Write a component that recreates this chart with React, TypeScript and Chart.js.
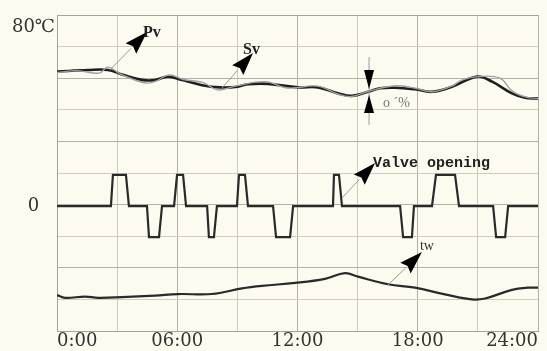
import React, { useEffect, useRef } from 'react';
import { Chart, registerables } from 'chart.js';

Chart.register(...registerables);

// ---- data (x in hours, y in chart units: 0..10, 10 = 80℃ line) ----
const xTickLabels: Record<number, string> = { 0: '0:00', 6: '06:00', 12: '12:00', 18: '18:00', 24: '24:00' };
const yTopLabel = '80℃';
const yZeroLabel = '0';
const yTopLabelPos = 9.62;
const yZeroLabelPos = 3.94;

const pvHours = [0, 1.55, 2.54, 3.24, 4.29, 4.89, 5.54, 6.24, 7.24, 8.13, 8.88, 9.53, 10.53, 12.03, 13.02, 14.02, 14.72, 15.52, 16.12, 16.87, 17.86, 18.71, 19.71, 20.96, 21.71, 22.7, 23.35, 24];
const pvValues = [8.21, 8.26, 8.26, 8.12, 7.94, 7.94, 8.05, 7.94, 7.78, 7.71, 7.72, 7.81, 7.82, 7.71, 7.71, 7.52, 7.44, 7.57, 7.68, 7.7, 7.65, 7.57, 7.73, 8.05, 7.89, 7.52, 7.38, 7.36];

const svHours = [0, 1.0, 2.1, 2.54, 3.2, 4.4, 4.9, 5.6, 6.3, 7.3, 8.0, 8.9, 10.4, 11.5, 13.0, 14.0, 14.7, 15.5, 16.9, 17.9, 18.7, 19.7, 20.2, 21.0, 22.1, 22.7, 23.4, 24];
const svValues = [8.18, 8.24, 8.16, 8.35, 8.12, 7.85, 7.9, 8.1, 7.96, 7.86, 7.63, 7.75, 7.89, 7.69, 7.75, 7.5, 7.42, 7.58, 7.76, 7.68, 7.57, 7.75, 7.94, 8.05, 8.0, 7.6, 7.4, 7.36];

const valveHours = [0, 2.69, 2.79, 3.44, 3.59, 4.49, 4.59, 5.09, 5.24, 5.84, 5.99, 6.29, 6.44, 7.49, 7.58, 7.83, 7.98, 8.98, 9.08, 9.38, 9.53, 10.78, 10.93, 11.63, 11.78, 13.77, 13.82, 14.07, 14.22, 17.12, 17.27, 17.71, 17.81, 18.71, 18.91, 19.86, 20.06, 21.76, 21.91, 22.36, 22.51, 24];
const valveValues = [3.95, 3.95, 4.94, 4.94, 3.95, 3.95, 2.97, 2.97, 3.95, 3.95, 4.94, 4.94, 3.95, 3.95, 2.97, 2.97, 3.95, 3.95, 4.94, 4.94, 3.95, 3.95, 2.97, 2.97, 3.95, 3.95, 4.94, 4.94, 3.95, 3.95, 2.97, 2.97, 3.95, 3.95, 4.94, 4.94, 3.95, 3.95, 2.97, 2.97, 3.95, 3.95];

const twHours = [0, 0.4, 1.4, 2.05, 3.24, 4.89, 6.04, 7.73, 9.23, 10.23, 11.88, 13.37, 14.37, 15.02, 16.52, 17.86, 19.36, 20.71, 21.36, 22.7, 23.5, 24];
const twValues = [1.14, 1.05, 1.09, 1.05, 1.07, 1.12, 1.17, 1.17, 1.35, 1.43, 1.52, 1.65, 1.83, 1.72, 1.48, 1.37, 1.16, 1.0, 1.03, 1.3, 1.37, 1.37];

// annotations (data coordinates)
const arrowFrom = [[2.64, 8.26], [8.23, 7.69], [14.22, 4.21], [16.52, 1.46]];
const arrowTo = [[4.49, 9.46], [9.78, 8.8], [15.87, 5.32], [18.21, 2.5]];
const noteTexts = ['Pv', 'Sv', 'Valve opening', 'tw', 'o ´%'];
const notePos = [[4.29, 9.3], [9.28, 8.78], [15.77, 5.2], [18.11, 2.55], [16.27, 7.08]];
const noteFonts = ['bold 16px "Liberation Serif"', 'bold 16px "Liberation Serif"', 'bold 15px "Liberation Mono"', '14px "Liberation Serif"', '14px "Liberation Serif"'];
const noteColors = ['#222', '#222', '#222', '#333', '#777'];
const markerHour = 15.57;
const markerLine = [8.67, 6.52];
const markerDown = [8.26, 7.66];
const markerUp = [6.9, 7.47];

const toXY = (xs: number[], ys: number[]) => xs.map((h, i) => ({ x: h, y: ys[i] }));

const bgPlugin = {
  id: 'bg',
  beforeDraw(chart: any) {
    const { ctx, width, height } = chart;
    ctx.save();
    ctx.fillStyle = '#fdfbf0';
    ctx.fillRect(0, 0, width, height);
    ctx.restore();
  },
};

const annotPlugin = {
  id: 'annot',
  afterDatasetsDraw(chart: any) {
    const { ctx, scales } = chart;
    const px = (h: number) => scales.x.getPixelForValue(h);
    const py = (v: number) => scales.y.getPixelForValue(v);
    ctx.save();
    arrowFrom.forEach((f, i) => {
      const t = arrowTo[i];
      const x1 = px(f[0]), y1 = py(f[1]), x2 = px(t[0]), y2 = py(t[1]);
      const ang = Math.atan2(y2 - y1, x2 - x1);
      const L = 23, W = 7.5;
      const bx = x2 - L * Math.cos(ang), by = y2 - L * Math.sin(ang);
      ctx.strokeStyle = '#9a9a9a';
      ctx.lineWidth = 1;
      ctx.beginPath();
      ctx.moveTo(x1, y1);
      ctx.lineTo(bx, by);
      ctx.stroke();
      ctx.fillStyle = '#000';
      ctx.beginPath();
      ctx.moveTo(x2, y2);
      ctx.lineTo(bx + W * Math.sin(ang), by - W * Math.cos(ang));
      ctx.lineTo(x2 - (L - 3) * Math.cos(ang), y2 - (L - 3) * Math.sin(ang));
      ctx.lineTo(bx - W * Math.sin(ang), by + W * Math.cos(ang));
      ctx.closePath();
      ctx.fill();
    });
    // vertical overshoot marker
    const mx = px(markerHour);
    ctx.strokeStyle = '#9a9a9a';
    ctx.lineWidth = 1;
    ctx.beginPath();
    ctx.moveTo(mx, py(markerLine[0]));
    ctx.lineTo(mx, py(markerLine[1]));
    ctx.stroke();
    ctx.fillStyle = '#000';
    [markerDown, markerUp].forEach((m) => {
      ctx.beginPath();
      ctx.moveTo(mx - 5, py(m[0]));
      ctx.lineTo(mx + 5, py(m[0]));
      ctx.lineTo(mx, py(m[1]));
      ctx.closePath();
      ctx.fill();
    });
    noteTexts.forEach((txt, i) => {
      ctx.font = noteFonts[i];
      ctx.fillStyle = noteColors[i];
      ctx.textAlign = 'left';
      ctx.textBaseline = 'alphabetic';
      ctx.fillText(txt, px(notePos[i][0]), py(notePos[i][1]));
    });
    ctx.restore();
  },
};

export default function App() {
  const ref = useRef<HTMLCanvasElement | null>(null);
  useEffect(() => {
    document.body.style.margin = '0';
    document.body.style.background = '#fdfbf0';
    const canvas = ref.current!;
    const chart = new Chart(canvas, {
      type: 'line',
      data: {
        datasets: [
          { label: 'Sv', data: toXY(svHours, svValues), borderColor: '#a0a0a0', borderWidth: 1.4, pointRadius: 0, tension: 0.4, fill: false },
          { label: 'Pv', data: toXY(pvHours, pvValues), borderColor: '#1e1e1e', borderWidth: 2.6, pointRadius: 0, tension: 0.4, fill: false },
          { label: 'Valve opening', data: toXY(valveHours, valveValues), borderColor: '#2a2a2a', borderWidth: 2.2, pointRadius: 0, tension: 0, fill: false },
          { label: 'tw', data: toXY(twHours, twValues), borderColor: '#2a2a2a', borderWidth: 2.2, pointRadius: 0, tension: 0.4, fill: false },
        ],
      },
      options: {
        animation: false,
        responsive: false,
        devicePixelRatio: 1,
        layout: { padding: { top: 15, right: 9, left: 0, bottom: 0 } },
        plugins: { legend: { display: false }, tooltip: { enabled: false } },
        scales: {
          x: {
            type: 'linear',
            min: 0,
            max: 24,
            afterBuildTicks: (scale: any) => {
              scale.ticks = [0, 3, 6, 9, 12, 15, 18, 21, 24].map((v) => ({ value: v }));
            },
            afterFit: (scale: any) => {
              scale.height = 20;
            },
            grid: {
              drawTicks: false,
              color: (c: any) => (c.tick && c.tick.value % 6 === 0 ? '#b3b0a5' : '#cfcbbe'),
              lineWidth: 1,
            },
            border: { color: '#a5a298', width: 1 },
            ticks: {
              autoSkip: false,
              maxRotation: 0,
              align: 'inner',
              padding: 0,
              color: '#333',
              font: { family: '"DejaVu Serif", serif', size: 18 },
              callback: (v: any) => xTickLabels[v as number] ?? '',
            },
          },
          y: {
            type: 'linear',
            min: 0,
            max: 10,
            afterBuildTicks: (scale: any) => {
              const t = [0, 1, 2, 3, yZeroLabelPos, 4, 5, 6, 7, 8, 9, yTopLabelPos, 10];
              scale.ticks = t.map((v) => ({ value: v }));
            },
            afterFit: (scale: any) => {
              scale.width = 57;
            },
            grid: {
              drawTicks: false,
              color: (c: any) => {
                const v = c.tick ? c.tick.value : 0;
                if (!Number.isInteger(v)) return 'rgba(0,0,0,0)';
                if (v === 0 || v === 10) return '#a5a298';
                return v % 2 === 0 ? '#b3b0a5' : '#cfcbbe';
              },
              lineWidth: 1,
            },
            border: { color: '#a5a298', width: 1 },
            ticks: {
              autoSkip: false,
              crossAlign: 'center',
              padding: 2,
              color: '#333',
              font: { family: '"DejaVu Serif", "Noto Sans CJK SC", serif', size: 18 },
              callback: (v: any) => (v === yTopLabelPos ? yTopLabel : v === yZeroLabelPos ? yZeroLabel : ''),
            },
          },
        },
      } as any,
      plugins: [bgPlugin, annotPlugin],
    });
    return () => chart.destroy();
  }, []);
  return (
    <div style={{ width: 547, height: 351, background: '#fdfbf0' }}>
      <canvas ref={ref} width={547} height={351} style={{ display: 'block' }} />
    </div>
  );
}
